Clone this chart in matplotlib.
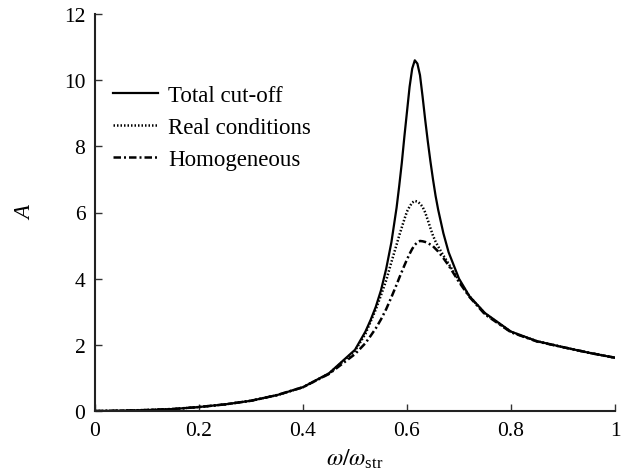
import matplotlib
matplotlib.use("Agg")
import matplotlib.pyplot as plt

plt.rcParams['font.family'] = ['Liberation Serif', 'DejaVu Serif']
plt.rcParams['mathtext.fontset'] = 'stix'

# frequency ratio omega/omega_str
x = [0, 0.05, 0.1, 0.15, 0.2, 0.25, 0.3, 0.35, 0.4, 0.45, 0.5, 0.52, 0.53, 0.54,
     0.55, 0.56, 0.57, 0.58, 0.585, 0.59, 0.595, 0.6, 0.605, 0.61, 0.615, 0.62, 0.625, 0.63,
     0.635, 0.64, 0.645, 0.65, 0.655, 0.66, 0.67, 0.68, 0.7, 0.72, 0.75, 0.8, 0.85, 0.9, 0.95, 1.0]

total_cutoff = [0, 0.01, 0.03, 0.06, 0.12, 0.2, 0.31, 0.48, 0.72, 1.14, 1.85, 2.4, 2.75,
                3.15, 3.65, 4.3, 5.1, 6.15, 6.8, 7.5, 8.3, 9.05, 9.8, 10.35, 10.6, 10.5, 10.15, 9.5,
                8.8, 8.15, 7.55, 7.0, 6.5, 6.08, 5.37, 4.8, 4.0, 3.47, 2.96, 2.4, 2.11, 1.93, 1.76, 1.61]

real_conditions = [0, 0.01, 0.03, 0.06, 0.12, 0.2, 0.31, 0.48, 0.72, 1.13, 1.82, 2.33, 2.7,
                   3.07, 3.5, 3.95, 4.5, 5.03, 5.3, 5.55, 5.8, 6.03, 6.18, 6.3, 6.35, 6.33, 6.27, 6.17,
                   6.0, 5.77, 5.53, 5.3, 5.12, 4.97, 4.7, 4.45, 3.95, 3.47, 2.94, 2.39, 2.11, 1.93, 1.76, 1.61]

homogeneous = [0, 0.01, 0.03, 0.06, 0.12, 0.2, 0.31, 0.48, 0.72, 1.12, 1.72, 2.05, 2.27,
               2.5, 2.77, 3.08, 3.44, 3.82, 4.02, 4.21, 4.4, 4.58, 4.75, 4.9, 5.02, 5.1, 5.14, 5.13,
               5.11, 5.08, 5.03, 4.98, 4.9, 4.82, 4.62, 4.4, 3.9, 3.45, 2.92, 2.38, 2.1, 1.93, 1.76, 1.61]

labels = ["Total cut-off", "Real conditions", "Homogeneous"]

fig = plt.figure(figsize=(6.26, 4.77), dpi=100)
ax = fig.add_axes([95/626, 1-412/477, 520/626, 397/477])

ax.plot(x, total_cutoff, color='black', lw=1.6, ls='-', label=labels[0])
ax.plot(x, real_conditions, color='black', lw=1.8, ls=(0, (0.6, 0.8)), label=labels[1])
ax.plot(x, homogeneous, color='black', lw=1.8, ls=(0, (3, 1.2, 0.8, 1.2)), label=labels[2])

ax.set_xlim(0, 1)
ax.set_ylim(0, 12)
ax.set_xticks([0, 0.2, 0.4, 0.6, 0.8, 1])
ax.set_xticklabels(["0", "0.2", "0.4", "0.6", "0.8", "1"])
ax.set_yticks([0, 2, 4, 6, 8, 10, 12])
ax.tick_params(direction='in', length=5, width=1.0, labelsize=15.5, pad=7, color='#333333')
for s in ['top', 'right']:
    ax.spines[s].set_visible(False)
for s in ['left', 'bottom']:
    ax.spines[s].set_linewidth(1.5)
    ax.spines[s].set_color('#222222')

ax.set_xlabel(r'$\omega/\omega_{\mathregular{str}}$', fontsize=17, labelpad=5)
ax.set_ylabel('A', fontsize=16.5, style='italic')
ax.yaxis.set_label_coords(-0.113, 0.5)

leg = ax.legend(loc='upper left', bbox_to_anchor=(113/626, 1-86/477),
                bbox_transform=fig.transFigure, frameon=False, fontsize=16.5,
                handlelength=1.95, handletextpad=0.45, labelspacing=0.48,
                borderpad=0, borderaxespad=0)

fig.savefig('out.png', dpi=100)
